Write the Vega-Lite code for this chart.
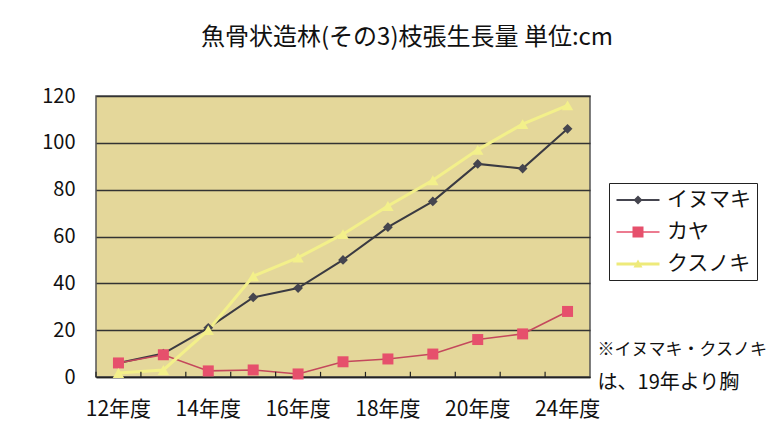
{
  "$schema": "https://vega.github.io/schema/vega-lite/v6.json",
  "width": 494,
  "height": 281,
  "autosize": "none",
  "padding": {"left": 96, "top": 96, "right": 177, "bottom": 67},
  "background": "white",
  "title": {
    "text": "魚骨状造林(その3)枝張生長量 単位:cm",
    "font": "Noto Sans CJK JP",
    "fontSize": 24,
    "fontWeight": "normal",
    "color": "#111111",
    "anchor": "middle",
    "frame": "group",
    "dx": 64,
    "offset": 36
  },
  "config": {
    "font": "Noto Sans CJK JP",
    "view": {"fill": "#e4d79a", "stroke": "#555555", "strokeWidth": 1.5}
  },
  "data": {
    "values": [
      {"year": "12年度", "series": "イヌマキ", "value": 6},
      {"year": "13年度", "series": "イヌマキ", "value": 10},
      {"year": "14年度", "series": "イヌマキ", "value": 21},
      {"year": "15年度", "series": "イヌマキ", "value": 34},
      {"year": "16年度", "series": "イヌマキ", "value": 38},
      {"year": "17年度", "series": "イヌマキ", "value": 50},
      {"year": "18年度", "series": "イヌマキ", "value": 64},
      {"year": "19年度", "series": "イヌマキ", "value": 75},
      {"year": "20年度", "series": "イヌマキ", "value": 91},
      {"year": "22年度", "series": "イヌマキ", "value": 89},
      {"year": "24年度", "series": "イヌマキ", "value": 106},
      {"year": "12年度", "series": "カヤ", "value": 6},
      {"year": "13年度", "series": "カヤ", "value": 9.5},
      {"year": "14年度", "series": "カヤ", "value": 2.6},
      {"year": "15年度", "series": "カヤ", "value": 3},
      {"year": "16年度", "series": "カヤ", "value": 1.3},
      {"year": "17年度", "series": "カヤ", "value": 6.5},
      {"year": "18年度", "series": "カヤ", "value": 7.7},
      {"year": "19年度", "series": "カヤ", "value": 9.8},
      {"year": "20年度", "series": "カヤ", "value": 16},
      {"year": "22年度", "series": "カヤ", "value": 18.4},
      {"year": "24年度", "series": "カヤ", "value": 28},
      {"year": "12年度", "series": "クスノキ", "value": 1.7},
      {"year": "13年度", "series": "クスノキ", "value": 3},
      {"year": "14年度", "series": "クスノキ", "value": 20},
      {"year": "15年度", "series": "クスノキ", "value": 43},
      {"year": "16年度", "series": "クスノキ", "value": 51},
      {"year": "17年度", "series": "クスノキ", "value": 61},
      {"year": "18年度", "series": "クスノキ", "value": 73},
      {"year": "19年度", "series": "クスノキ", "value": 84},
      {"year": "20年度", "series": "クスノキ", "value": 97},
      {"year": "22年度", "series": "クスノキ", "value": 108},
      {"year": "24年度", "series": "クスノキ", "value": 116}
    ]
  },
  "layer": [
    {
      "encoding": {
        "x": {
          "field": "year",
          "type": "nominal",
          "sort": null,
          "scale": {"type": "band", "paddingInner": 0, "paddingOuter": 0},
          "axis": {
            "title": null,
            "labelAngle": 0,
            "labelFontSize": 21,
            "labelColor": "#111111",
            "labelPadding": 21,
            "labelExpr": "indexof(['13年度','15年度','17年度','19年度','22年度'], datum.value) >= 0 ? '' : datum.label",
            "domainColor": "#222222",
            "domainWidth": 1.5,
            "ticks": false,
            "grid": false
          }
        },
        "y": {
          "field": "value",
          "type": "quantitative",
          "scale": {"domain": [0, 120], "nice": false},
          "axis": {
            "title": null,
            "values": [0, 20, 40, 60, 80, 100, 120],
            "labelFontSize": 20,
            "labelColor": "#111111",
            "labelPadding": 21,
            "ticks": false,
            "domain": false,
            "grid": true,
            "gridColor": "#333333",
            "gridWidth": 1.5
          }
        }
      },
      "layer": [
        {
          "transform": [{"filter": "datum.series === 'イヌマキ'"}],
          "mark": {"type": "line", "color": "#3a3a42", "strokeWidth": 2}
        },
        {
          "transform": [{"filter": "datum.series === 'カヤ'"}],
          "mark": {"type": "line", "color": "#c4485c", "strokeWidth": 1.6}
        },
        {
          "transform": [{"filter": "datum.series === 'クスノキ'"}],
          "mark": {"type": "line", "color": "#f3f08a", "strokeWidth": 3}
        },
        {
          "transform": [{"filter": "datum.series === 'イヌマキ'"}],
          "mark": {"type": "point", "shape": "diamond", "filled": true, "size": 95, "color": "#45454f", "opacity": 1}
        },
        {
          "transform": [{"filter": "datum.series === 'カヤ'"}],
          "mark": {"type": "point", "shape": "square", "filled": true, "size": 121, "color": "#e6506c", "opacity": 1}
        },
        {
          "transform": [{"filter": "datum.series === 'クスノキ'"}],
          "mark": {"type": "point", "shape": "triangle-up", "filled": true, "size": 130, "color": "#f3f08a", "opacity": 1}
        },
        {
          "mark": {"type": "point", "filled": true, "opacity": 0},
          "encoding": {
            "color": {
              "field": "series",
              "type": "nominal",
              "scale": {"domain": ["イヌマキ", "カヤ", "クスノキ"], "range": ["#45454f", "#e6506c", "#eeea7a"]},
              "legend": {
                "title": null,
                "orient": "none",
                "legendX": 513,
                "legendY": 87,
                "padding": 6,
                "fillColor": "white",
                "strokeColor": "#222222",
                "symbolSize": 400,
                "symbolOffset": 12,
                "symbolOpacity": 1,
                "labelOffset": 18,
                "labelFontSize": 21,
                "labelColor": "#111111",
                "rowPadding": 11
              }
            },
            "shape": {
              "field": "series",
              "type": "nominal",
              "scale": {
                "domain": ["イヌマキ", "カヤ", "クスノキ"],
                "range": [
                  "M-2.15,-0.1L2.15,-0.1L2.15,0.1L-2.15,0.1ZM0,-0.45L0.45,0L0,0.45L-0.45,0Z",
                  "M-2.15,-0.08L2.15,-0.08L2.15,0.08L-2.15,0.08ZM-0.55,-0.55L0.55,-0.55L0.55,0.55L-0.55,0.55Z",
                  "M-2.15,-0.14L2.15,-0.14L2.15,0.14L-2.15,0.14ZM0,-0.45L0.45,0.35L-0.45,0.35Z"
                ]
              },
              "legend": {
                "title": null,
                "orient": "none",
                "legendX": 513,
                "legendY": 87,
                "padding": 6,
                "fillColor": "white",
                "strokeColor": "#222222",
                "symbolSize": 400,
                "symbolOffset": 12,
                "symbolOpacity": 1,
                "labelOffset": 18,
                "labelFontSize": 21,
                "labelColor": "#111111",
                "rowPadding": 11
              }
            }
          }
        }
      ]
    },
    {
      "transform": [{"filter": "datum.series === 'イヌマキ'"}],
      "mark": {"type": "rule", "color": "#222222", "strokeWidth": 1.2},
      "encoding": {
        "x": {"field": "year", "type": "nominal", "sort": null, "bandPosition": 0},
        "y": {"datum": 0, "type": "quantitative"},
        "y2": {"datum": 2.2}
      }
    },
    {
      "data": {"values": [{"note": "注記1"}]},
      "mark": {
        "type": "text",
        "text": "※イヌマキ・クスノキ",
        "align": "left",
        "baseline": "top",
        "dx": 30,
        "fontSize": 17,
        "color": "#111111"
      },
      "encoding": {
        "x": {"datum": "24年度", "type": "nominal"},
        "y": {"datum": 15, "type": "quantitative"}
      }
    },
    {
      "data": {"values": [{"note": "注記2"}]},
      "mark": {
        "type": "text",
        "text": "は、19年より胸",
        "align": "left",
        "baseline": "top",
        "dx": 30,
        "fontSize": 20,
        "color": "#111111"
      },
      "encoding": {
        "x": {"datum": "24年度", "type": "nominal"},
        "y": {"datum": 1.5, "type": "quantitative"}
      }
    }
  ]
}
